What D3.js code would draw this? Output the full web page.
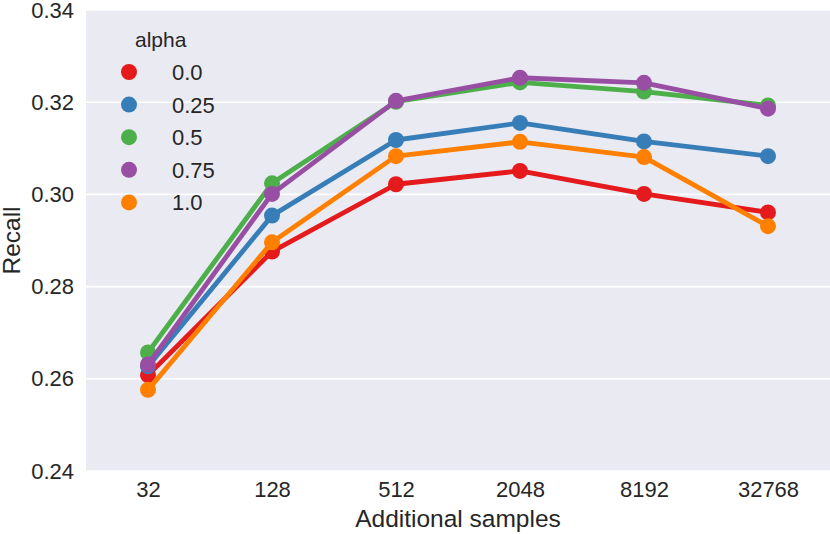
<!DOCTYPE html>
<html>
<head>
<meta charset="utf-8">
<script src="https://cdn.jsdelivr.net/npm/d3@7.9.0/dist/d3.min.js"></script>
<style>
  body { margin: 0; background: #fff; }
  svg text { font-family: "Liberation Sans", Arial, sans-serif; fill: #262626; }
</style>
</head>
<body>
<svg id="chart" width="830" height="534"></svg>
<script>
const samples = ['32', '128', '512', '2048', '8192', '32768'];
const alphas = ['0.0', '0.25', '0.5', '0.75', '1.0'];
const recallAlpha00 = [0.2608, 0.2876, 0.3022, 0.3051, 0.3001, 0.2961];
const recallAlpha025 = [0.2627, 0.2954, 0.3118, 0.3155, 0.3115, 0.3083];
const recallAlpha05 = [0.2657, 0.3024, 0.3201, 0.3243, 0.3223, 0.3193];
const recallAlpha075 = [0.2631, 0.3001, 0.3203, 0.3253, 0.3242, 0.3186];
const recallAlpha10 = [0.2576, 0.2896, 0.3083, 0.3114, 0.3081, 0.2931];
const yTicks = [0.24, 0.26, 0.28, 0.30, 0.32, 0.34];

const seriesValues = [recallAlpha00, recallAlpha025, recallAlpha05, recallAlpha075, recallAlpha10];
const colors = d3.scaleOrdinal()
  .domain(alphas)
  .range(['#e41a1c', '#377eb8', '#4daf4a', '#984ea3', '#ff7f00']);

const margin = { top: 10, right: 0, bottom: 63, left: 86 };
const width = 830 - margin.left - margin.right;
const height = 534 - margin.top - margin.bottom;

const svg = d3.select('#chart');
const g = svg.append('g').attr('transform', `translate(${margin.left},${margin.top})`);

const x = d3.scalePoint().domain(samples).range([0, width]).padding(0.5);
const y = d3.scaleLinear().domain([0.24, 0.34]).range([height, 0]);

g.append('rect')
  .attr('width', width)
  .attr('height', height)
  .attr('fill', '#eaeaf2');

// horizontal grid
g.selectAll('.grid')
  .data(yTicks)
  .join('line')
  .attr('x1', 0)
  .attr('x2', width)
  .attr('y1', (d) => y(d))
  .attr('y2', (d) => y(d))
  .attr('stroke', '#fff')
  .attr('stroke-width', 1.6);

const yAxis = g.append('g')
  .call(d3.axisLeft(y).tickValues(yTicks).tickFormat(d3.format('.2f')).tickSize(0).tickPadding(12));
yAxis.select('.domain').remove();
yAxis.selectAll('text').attr('font-size', 22).attr('fill', '#262626');

const xAxis = g.append('g')
  .attr('transform', `translate(0,${height})`)
  .call(d3.axisBottom(x).tickSize(0).tickPadding(10));
xAxis.select('.domain').remove();
xAxis.selectAll('text').attr('font-size', 22).attr('fill', '#262626');

svg.append('text')
  .attr('x', margin.left + width / 2)
  .attr('y', 527)
  .attr('text-anchor', 'middle')
  .attr('font-size', 24.5)
  .text('Additional samples');

svg.append('text')
  .attr('transform', `translate(20,${margin.top + height / 2}) rotate(-90)`)
  .attr('text-anchor', 'middle')
  .attr('font-size', 24.5)
  .text('Recall');

const line = d3.line()
  .x((d, i) => x(samples[i]))
  .y((d) => y(d));

seriesValues.forEach((values, k) => {
  const color = colors(alphas[k]);
  g.append('path')
    .datum(values)
    .attr('fill', 'none')
    .attr('stroke', color)
    .attr('stroke-width', 4.8)
    .attr('stroke-linejoin', 'round')
    .attr('d', line);

  g.selectAll(null)
    .data(values)
    .join('circle')
    .attr('cx', (d, i) => x(samples[i]))
    .attr('cy', (d) => y(d))
    .attr('r', 8)
    .attr('fill', color);
});

// legend
const legend = svg.append('g');
legend.append('text')
  .attr('x', 135)
  .attr('y', 47)
  .attr('font-size', 21)
  .text('alpha');

const items = legend.selectAll('.item')
  .data(alphas)
  .join('g')
  .attr('transform', (d, i) => `translate(0,${72 + i * 32.6})`);

items.append('circle')
  .attr('cx', 129)
  .attr('cy', 0)
  .attr('r', 8)
  .attr('fill', (d) => colors(d));

items.append('text')
  .attr('x', 172)
  .attr('y', 8)
  .attr('font-size', 22)
  .text((d) => d);
</script>
</body>
</html>
